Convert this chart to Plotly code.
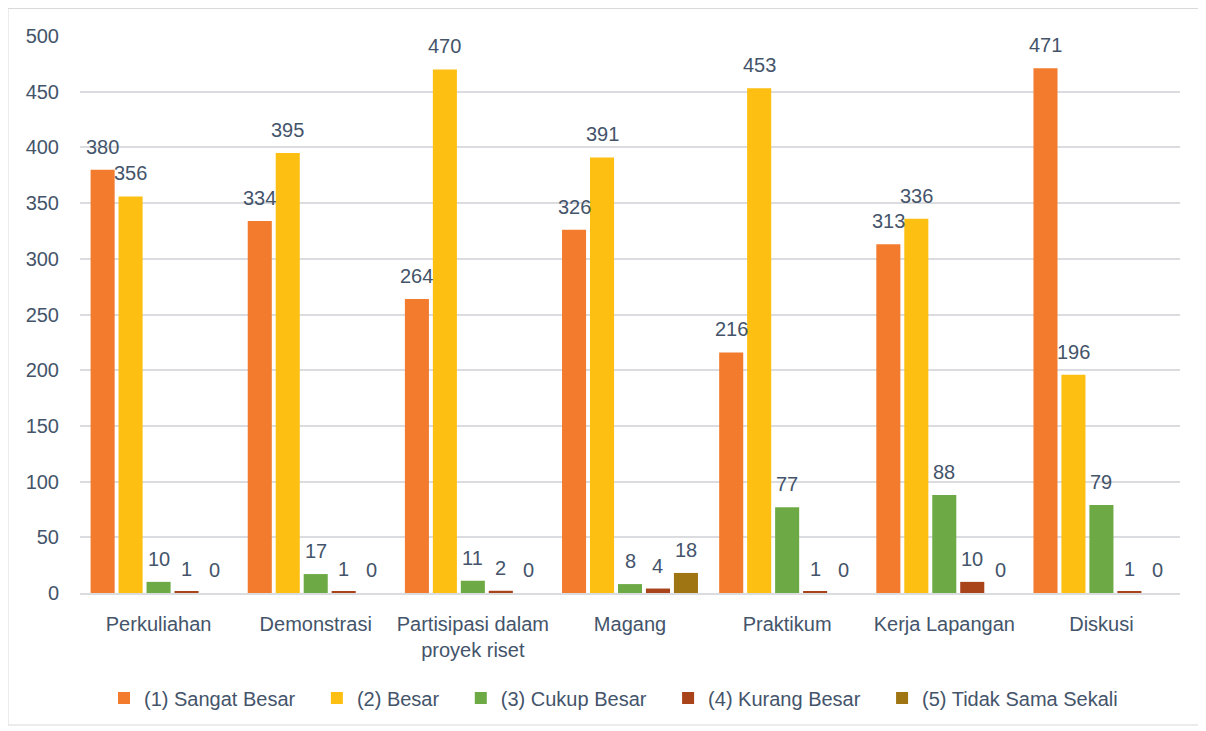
import plotly.graph_objects as go

categories = ["Perkuliahan", "Demonstrasi", "Partisipasi dalam<br>proyek riset", "Magang",
              "Praktikum", "Kerja Lapangan", "Diskusi"]
series_names = ["(1) Sangat Besar", "(2) Besar", "(3) Cukup Besar", "(4) Kurang Besar", "(5) Tidak Sama Sekali"]
sangat_besar = [380, 334, 264, 326, 216, 313, 471]
besar = [356, 395, 470, 391, 453, 336, 196]
cukup_besar = [10, 17, 11, 8, 77, 88, 79]
kurang_besar = [1, 1, 2, 4, 1, 10, 1]
tidak_sama_sekali = [0, 0, 0, 18, 0, 0, 0]
y_ticks = [0, 50, 100, 150, 200, 250, 300, 350, 400, 450, 500]

series_values = [sangat_besar, besar, cukup_besar, kurang_besar, tidak_sama_sekali]
colors = ["#F27B2E", "#FDBF12", "#6DAA45", "#A8431A", "#9F7514"]
text_color = "#44546A"
font_family = "'Liberation Sans', Arial, sans-serif"
FS = 20
pad = "\u00a0" * 3
BARGAP, BARGROUPGAP = 0.11, 0.14

fig = go.Figure()
n = len(series_names)
slot = (1 - BARGAP) / n
for i, (name, vals, col) in enumerate(zip(series_names, series_values, colors)):
    fig.add_trace(go.Bar(
        x=categories, y=vals, name=name + (pad if i < n - 1 else ""),
        marker=dict(color=col, line=dict(width=0)),
        cliponaxis=False,
    ))
    off = (i - (n - 1) / 2) * slot
    for j, v in enumerate(vals):
        fig.add_annotation(x=j + off, y=v, xref="x", yref="y", text=str(v),
                           showarrow=False, yanchor="bottom", xanchor="center", yshift=10,
                           font=dict(size=FS, color=text_color, family=font_family))

W, H = 1192, 718
L, T = 72, 28
PW, PH = 1100, 557
R = W - L - PW
B = H - T - PH

fig.update_layout(
    width=W, height=H,
    margin=dict(l=L, r=R, t=T, b=B, autoexpand=False),
    paper_bgcolor="white", plot_bgcolor="white",
    barmode="group", bargap=BARGAP, bargroupgap=BARGROUPGAP,
    font=dict(family=font_family, color=text_color, size=FS),
    showlegend=True,
    legend=dict(orientation="h", x=0.485, xanchor="center", y=-0.1885, yanchor="middle",
                font=dict(size=FS, color=text_color, family=font_family),
                itemwidth=30, traceorder="normal"),
)
fig.update_xaxes(showgrid=False, showline=True, linecolor="#DADCE0", linewidth=1.5,
                 tickfont=dict(size=FS, color=text_color), ticks="", ticklabelstandoff=12)
fig.update_yaxes(range=[0, 500], tickvals=y_ticks, showgrid=True, gridcolor="#DADCE0",
                 gridwidth=1.5, zeroline=False, showline=False, ticks="",
                 tickfont=dict(size=FS, color=text_color), ticklabelstandoff=20)
fig.add_shape(type="rect", xref="paper", yref="paper",
              x0=-L / PW, x1=(W - L - 1) / PW, y0=-(B - 1) / PH, y1=(PH + T - 0.5) / PH,
              line=dict(color="#D9D9D9", width=1), fillcolor="rgba(0,0,0,0)", layer="below")

fig.write_html("out.html")
